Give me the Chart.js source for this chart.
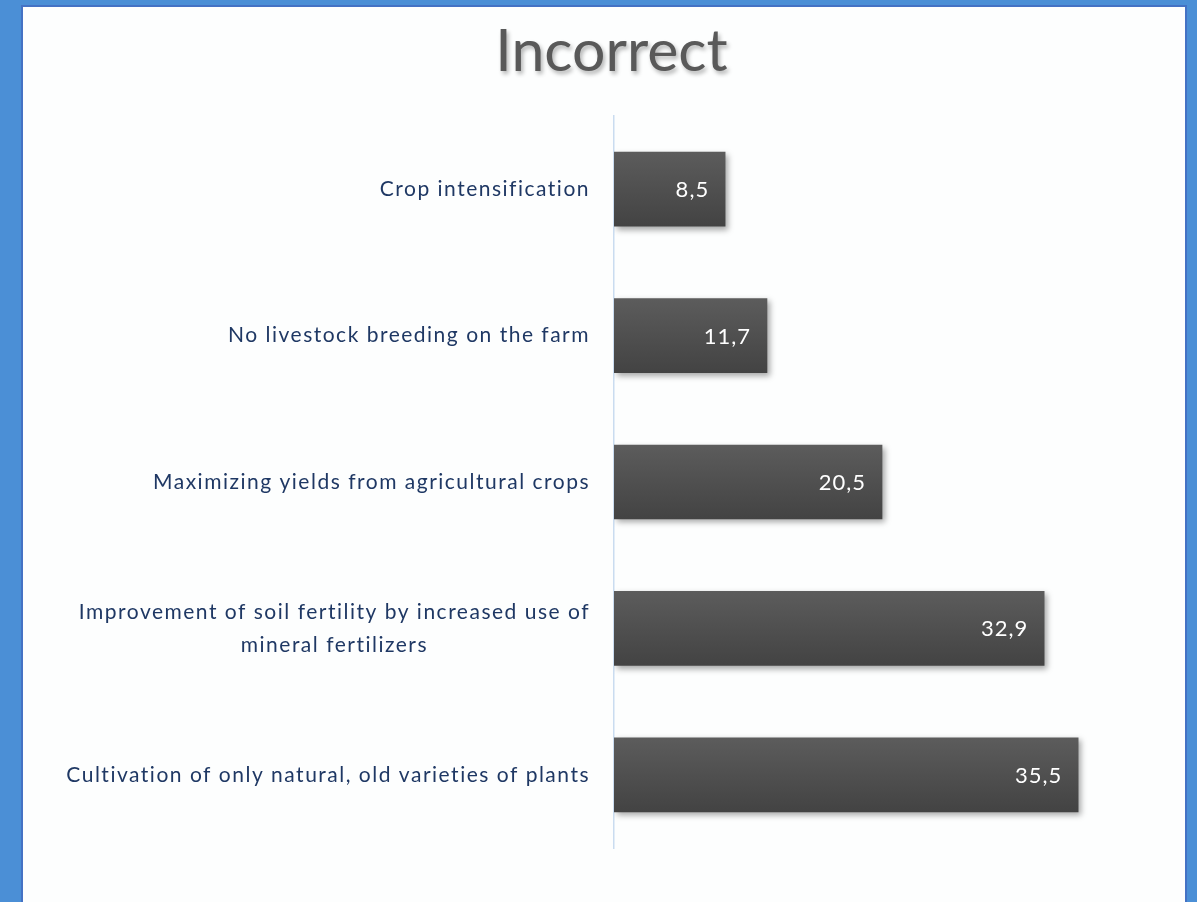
<!DOCTYPE html>
<html>
<head>
<meta charset="utf-8">
<script src="https://cdn.jsdelivr.net/npm/chart.js@4/dist/chart.umd.min.js"></script>
<style>
  html, body { margin: 0; padding: 0; }
  body {
    width: 1197px; height: 902px; overflow: hidden; position: relative;
    background: #4b8fd6;
  }
  #panel {
    position: absolute; left: 21px; top: 5px; width: 1166px; height: 905px;
    background: #fdfefe; border: 2px solid #4472c4; box-sizing: border-box;
  }
  #title {
    position: absolute; left: 13px; top: 13px; width: 1197px; text-align: center;
    font-family: Lato, "Open Sans", sans-serif; font-size: 59px; color: #595959;
    text-shadow: 2px 3px 4px rgba(0, 0, 0, 0.3);
  }
  #chart { position: absolute; left: 0; top: 0; }
</style>
</head>
<body>
<div id="panel"></div>
<div id="title">Incorrect</div>
<canvas id="chart" width="1197" height="902"></canvas>
<script>
const categories = [
    'Crop intensification',
    'No livestock breeding on the farm',
    'Maximizing yields from agricultural crops',
    ['Improvement of soil fertility by increased use of', 'mineral fertilizers'],
    'Cultivation of only natural, old varieties of plants'
];
const shares = [8.5, 11.7, 20.5, 32.9, 35.5];

const FONT = 'Lato, "Open Sans", sans-serif';

// vertical gray gradient for each bar
function barFill(ctx) {
    const chart = ctx.chart;
    const yScale = chart.scales.y;
    if (!yScale || ctx.dataIndex === undefined) return '#505050';
    const mid = yScale.getPixelForValue(ctx.dataIndex);
    if (!isFinite(mid)) return '#505050';
    const g = chart.ctx.createLinearGradient(0, mid - 37, 0, mid + 37);
    g.addColorStop(0, '#5c5c5c');
    g.addColorStop(1, '#434343');
    return g;
}

// soft drop shadow under the bars
const barShadow = {
    id: 'barShadow',
    beforeDatasetDraw(chart) {
        const c = chart.ctx;
        c.save();
        c.shadowColor = 'rgba(0, 0, 0, 0.35)';
        c.shadowBlur = 6;
        c.shadowOffsetX = 3;
        c.shadowOffsetY = 3;
    },
    afterDatasetDraw(chart) {
        chart.ctx.restore();
    }
};

// category names: block right-aligned against the axis, lines centred within the block
const categoryLabels = {
    id: 'categoryLabels',
    afterDraw(chart) {
        const c = chart.ctx;
        const y = chart.scales.y;
        const right = y.right - 24;
        const lineH = 33;
        c.save();
        c.fillStyle = '#1f3864';
        c.font = '21px ' + FONT;
        c.letterSpacing = '1.5px';
        c.textAlign = 'center';
        c.textBaseline = 'middle';
        categories.forEach((label, i) => {
            const lines = Array.isArray(label) ? label : [label];
            const w = Math.max(...lines.map(l => c.measureText(l).width));
            const cx = right - w / 2;
            const mid = y.getPixelForValue(i);
            const top = mid - (lines.length - 1) * lineH / 2;
            lines.forEach((l, k) => c.fillText(l, cx, top + k * lineH));
        });
        c.restore();
    }
};

// values written inside the bar end, comma as decimal mark
const valueLabels = {
    id: 'valueLabels',
    afterDatasetsDraw(chart) {
        const c = chart.ctx;
        const meta = chart.getDatasetMeta(0);
        c.save();
        c.fillStyle = '#ffffff';
        c.font = '22px ' + FONT;
        c.letterSpacing = '1px';
        c.textAlign = 'right';
        c.textBaseline = 'middle';
        meta.data.forEach((bar, i) => {
            const text = shares[i].toFixed(1).replace('.', ',');
            c.fillText(text, bar.x - 16, bar.y + 1);
        });
        c.restore();
    }
};

new Chart(document.getElementById('chart'), {
    type: 'bar',
    data: {
        labels: categories,
        datasets: [{
            data: shares,
            backgroundColor: barFill,
            borderWidth: 0,
            barThickness: 74
        }]
    },
    options: {
        indexAxis: 'y',
        responsive: false,
        animation: false,
        layout: { padding: { top: 116, bottom: 54, right: 60, left: 0 } },
        plugins: {
            legend: { display: false },
            tooltip: { enabled: false }
        },
        scales: {
            x: {
                display: false,
                min: 0,
                max: 40
            },
            y: {
                afterFit(scale) { scale.width = 614; },
                border: { display: true, color: '#cadcf0', width: 1.5 },
                grid: { display: false, drawTicks: false },
                ticks: { display: false }
            }
        }
    },
    plugins: [barShadow, valueLabels, categoryLabels]
});
</script>
</body>
</html>
